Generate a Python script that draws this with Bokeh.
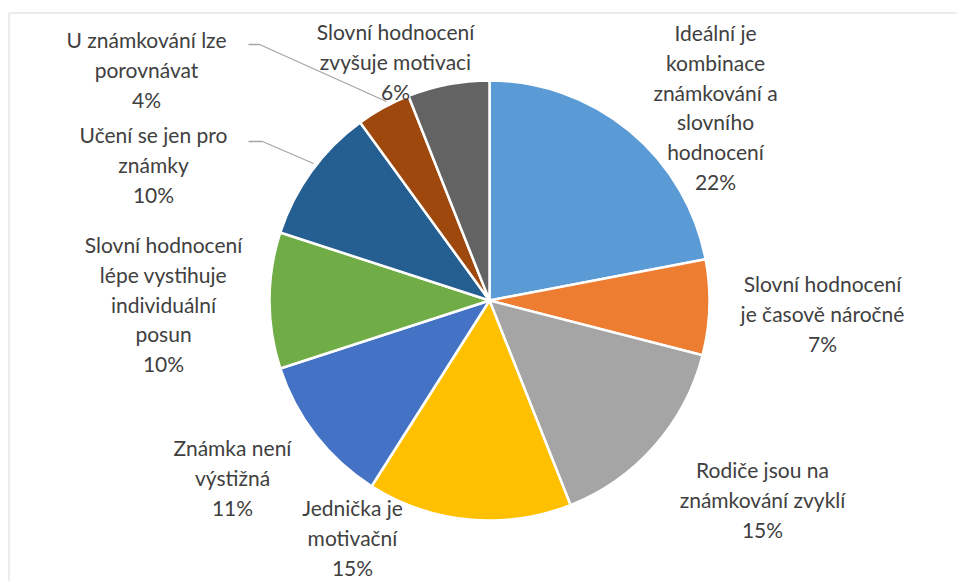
import math
from bokeh.plotting import figure
from bokeh.models import Range1d, ColumnDataSource
from bokeh.core.properties import value
from bokeh.embed import file_html
from bokeh.resources import INLINE

# ---- data ----
categories = [
    "Ideální je\nkombinace\nznámkování a\nslovního\nhodnocení",
    "Slovní hodnocení\nje časově náročné",
    "Rodiče jsou na\nznámkování zvyklí",
    "Jednička je\nmotivační",
    "Známka není\nvýstižná",
    "Slovní hodnocení\nlépe vystihuje\nindividuální\nposun",
    "Učení se jen pro\nznámky",
    "U známkování lze\nporovnávat",
    "Slovní hodnocení\nzvyšuje motivaci",
]
percents = [22, 7, 15, 15, 11, 10, 10, 4, 6]
colors = ["#5B9BD5", "#ED7D31", "#A5A5A5", "#FFC000", "#4472C4",
          "#70AD47", "#255E91", "#9E480E", "#636363"]

# ---- layout (page pixel coordinates; y measured downward) ----
W, H = 957, 581
CX, CY, R = 489, 300, 220
label_pos = [(715, 32), (822, 283), (762, 469), (352, 507), (232, 447),
             (163, 244), (153, 134), (146, 39), (395, 31)]
LINE_H = 29.8
leaders = {6: [(248, 141), (262, 141), (313, 163)],
           7: [(248, 44), (259, 44), (386, 101)]}

p = figure(width=W, height=H, output_backend="svg", toolbar_location=None,
           x_range=Range1d(0, W), y_range=Range1d(-H, 0),
           min_border=0)
p.axis.visible = False
p.grid.visible = False
p.outline_line_color = None
p.background_fill_color = "white"
p.border_fill_color = "white"

# chart frame (top and left edges visible in the reference)
p.line([8.5, W], [-12.5, -12.5], line_color="#D9D9D9", line_width=1)
p.line([8.5, 8.5], [-12.5, -H], line_color="#D9D9D9", line_width=1)

total = sum(percents)
starts, ends = [], []
a = math.pi / 2
for v in percents:
    starts.append(a)
    a -= v / total * 2 * math.pi
    ends.append(a)

src = ColumnDataSource(dict(start=starts, end=ends, color=colors))
p.wedge(x=CX, y=-CY, radius=R, start_angle="start", end_angle="end",
        direction="clock", fill_color="color", line_color="white",
        line_width=2.5, source=src)

for i, pts in leaders.items():
    p.line([q[0] for q in pts], [-q[1] for q in pts], line_color="#A6A6A6",
           line_width=1.3)

xs, ys, texts = [], [], []
for i, (cat, pct) in enumerate(zip(categories, percents)):
    lines = cat.split("\n") + [f"{pct}%"]
    lx, ly = label_pos[i]
    for j, t in enumerate(lines):
        xs.append(lx)
        ys.append(-(ly + j * LINE_H))
        texts.append(t)

p.text(x=xs, y=ys, text=texts, text_align="center", text_baseline="middle",
       text_font=value("Lato"), text_font_size="21px", text_color="#404040")

open("out.html", "w").write(file_html(p, INLINE))
